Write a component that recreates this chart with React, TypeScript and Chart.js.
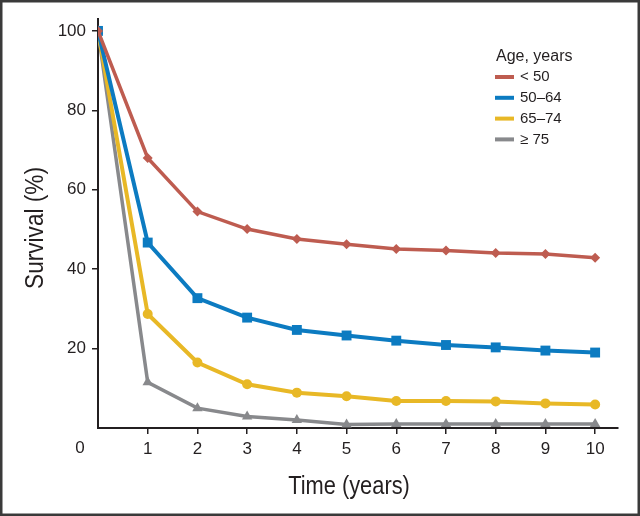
import React, { useEffect, useRef } from 'react';
import { Chart, registerables } from 'chart.js';

Chart.register(...registerables);

const years = [0, 1, 2, 3, 4, 5, 6, 7, 8, 9, 10];
const under50 = [100, 68.0, 54.5, 50.1, 47.6, 46.3, 45.1, 44.7, 44.1, 43.8, 42.9];
const age50to64 = [100, 46.7, 32.7, 27.8, 24.7, 23.3, 22.0, 20.9, 20.3, 19.5, 19.0];
const age65to74 = [100, 28.7, 16.5, 11.0, 8.9, 8.0, 6.8, 6.8, 6.7, 6.2, 5.9];
const age75plus = [100, 11.5, 5.0, 2.9, 2.0, 0.9, 1.0, 1.0, 1.0, 1.0, 1.0];
const seriesLabels = ['< 50', '50–64', '65–74', '≥ 75'];
const seriesColors = ['#BE5C50', '#0C7BC1', '#E8B826', '#88898C'];
const seriesMarkers = ['rectRot', 'rect', 'circle', 'triangle'];
const xTicks = [1, 2, 3, 4, 5, 6, 7, 8, 9, 10];
const yTicks = [20, 40, 60, 80, 100];
const legendTitle = 'Age, years';
const xTitle = 'Time (years)';
const yTitle = 'Survival (%)';
const originLabel = '0';

const TEXT = '#231F20';
const SANS = '"Liberation Sans", Arial, sans-serif';

const extrasPlugin = {
  id: 'extras',
  afterDraw(chart: any) {
    const ctx = chart.ctx;
    const xs = chart.scales.x;
    const ys = chart.scales.y;
    ctx.save();
    // origin label
    ctx.fillStyle = TEXT;
    ctx.font = `17px ${SANS}`;
    ctx.textAlign = 'center';
    ctx.textBaseline = 'middle';
    ctx.fillText(originLabel, xs.getPixelForValue(0) - 18, ys.getPixelForValue(0) + 20);
    // axis titles (condensed)
    ctx.font = `26px ${SANS}`;
    ctx.save();
    ctx.translate(349, 487);
    ctx.scale(0.84, 1);
    ctx.fillText(xTitle, 0, 0);
    ctx.restore();
    ctx.save();
    ctx.translate(36, 228);
    ctx.rotate(-Math.PI / 2);
    ctx.scale(0.87, 1);
    ctx.fillText(yTitle, 0, 0);
    ctx.restore();
    // legend
    ctx.textAlign = 'left';
    ctx.font = `16px ${SANS}`;
    ctx.fillText(legendTitle, 496, 57);
    ctx.font = `15px ${SANS}`;
    chart.data.datasets.forEach((ds: any, i: number) => {
      const y = 77 + i * 20.8;
      ctx.strokeStyle = ds.borderColor;
      ctx.lineWidth = 4;
      ctx.beginPath();
      ctx.moveTo(495, y);
      ctx.lineTo(514, y);
      ctx.stroke();
      ctx.fillStyle = TEXT;
      ctx.fillText(ds.label, 520, y);
    });
    // frame
    ctx.strokeStyle = '#3A3A3A';
    ctx.lineWidth = 2.5;
    ctx.strokeRect(1.25, 1.25, chart.width - 2.5, chart.height - 2.5);
    ctx.restore();
  },
};

export default function App() {
  const ref = useRef<HTMLCanvasElement | null>(null);
  useEffect(() => {
    document.body.style.margin = '0';
    if (!ref.current) return;
    const series = [under50, age50to64, age65to74, age75plus];
    const chart = new Chart(ref.current, {
      type: 'line',
      data: {
        datasets: series.map((vals, i) => ({
          label: seriesLabels[i],
          data: years.map((x, j) => ({ x, y: vals[j] })),
          borderColor: seriesColors[i],
          backgroundColor: seriesColors[i],
          borderWidth: i === 0 || i === 3 ? 3.5 : 4,
          pointStyle: seriesMarkers[i] as any,
          pointRadius: i === 1 ? 7 : i === 3 ? 6 : 5,
          pointBorderWidth: 0,
          tension: 0,
        })),
      },
      options: {
        animation: false,
        responsive: true,
        maintainAspectRatio: false,
        layout: { padding: { left: 0, right: 22, top: 19, bottom: 0 } },
        plugins: { legend: { display: false }, tooltip: { enabled: false } },
        scales: {
          x: {
            type: 'linear',
            min: 0,
            max: 10.46,
            afterBuildTicks: (s: any) => { s.ticks = xTicks.map((v) => ({ value: v })); },
            afterFit: (s: any) => { s.height = 88; },
            grid: { drawOnChartArea: false, drawTicks: true, tickLength: 6, color: '#231F20', lineWidth: 1.5 },
            border: { display: true, color: '#231F20', width: 2 },
            ticks: { color: TEXT, font: { size: 17, family: SANS }, padding: 5, maxRotation: 0, autoSkip: false },
          },
          y: {
            type: 'linear',
            min: 0,
            max: 103,
            afterBuildTicks: (s: any) => { s.ticks = yTicks.map((v) => ({ value: v })); },
            afterFit: (s: any) => { s.width = 98; },
            grid: { drawOnChartArea: false, drawTicks: true, tickLength: 6, color: '#231F20', lineWidth: 1.5 },
            border: { display: true, color: '#231F20', width: 2 },
            ticks: { color: TEXT, font: { size: 17, family: SANS }, padding: 6 },
          },
        },
      },
      plugins: [extrasPlugin],
    } as any);
    return () => chart.destroy();
  }, []);
  return (
    <div style={{ width: 640, height: 516, position: 'relative', background: '#fff' }}>
      <canvas ref={ref} />
    </div>
  );
}
